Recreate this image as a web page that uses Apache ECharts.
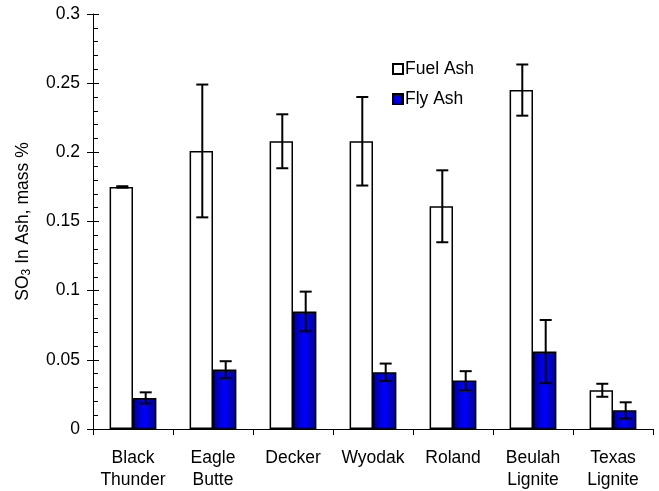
<!DOCTYPE html>
<html>
<head>
<meta charset="utf-8">
<script src="https://cdn.jsdelivr.net/npm/echarts@6/dist/echarts.min.js"></script>
<style>html,body{margin:0;padding:0;background:#fff;}#c{width:659px;height:491px;}</style>
</head>
<body>
<div id="c"></div>
<script>
const categories = ['Black\nThunder', 'Eagle\nButte', 'Decker', 'Wyodak', 'Roland', 'Beulah\nLignite', 'Texas\nLignite'];
const fuelAsh = [0.175, 0.201, 0.208, 0.208, 0.161, 0.245, 0.028];
const fuelErr = [0.0005, 0.048, 0.0195, 0.032, 0.026, 0.0185, 0.0047];
const flyAsh = [0.0225, 0.043, 0.085, 0.041, 0.035, 0.056, 0.0135];
const flyErr = [0.004, 0.006, 0.0143, 0.0063, 0.0068, 0.0228, 0.0058];
const seriesNames = ['Fuel Ash', 'Fly Ash'];
const yTicks = { min: 0, max: 0.3, interval: 0.05 };

const FONT = 'Liberation Sans, Arial, sans-serif';
const FS = 17.5;
const CAT_GAP = 0.415;

function errSeries(vals, errs, side) {
  return {
    type: 'custom',
    z: 10,
    silent: true,
    data: vals.map((v, i) => [i, v, errs[i]]),
    renderItem: function (params, api) {
      const i = api.value(0), v = api.value(1), e = api.value(2);
      const band = api.size([1, 0])[0];
      const bw = band * (1 - CAT_GAP) / 2;
      const c = api.coord([i, v]);
      const x = c[0] + side * bw / 2 + 1;
      const yt = api.coord([i, v + e])[1];
      const yb = api.coord([i, v - e])[1];
      const cap = 6;
      const st = { stroke: '#000', lineWidth: 2 };
      return {
        type: 'group',
        children: [
          { type: 'line', shape: { x1: x, y1: yt, x2: x, y2: yb }, style: st },
          { type: 'line', shape: { x1: x - cap, y1: yt, x2: x + cap, y2: yt }, style: st },
          { type: 'line', shape: { x1: x - cap, y1: yb, x2: x + cap, y2: yb }, style: st }
        ]
      };
    }
  };
}

const chart = echarts.init(document.getElementById('c'), null, { renderer: 'canvas' });
chart.setOption({
  backgroundColor: '#fff',
  animation: false,
  textStyle: { fontFamily: FONT },
  grid: { left: 93, right: 6, top: 14, bottom: 61, containLabel: false },
  legend: {
    data: seriesNames,
    orient: 'vertical',
    left: 392,
    top: 59,
    padding: 0,
    itemWidth: 10,
    itemHeight: 10,
    itemGap: 10,
    icon: 'rect',
    textStyle: { fontFamily: FONT, fontSize: FS, lineHeight: 20, color: '#000', padding: [0, 0, 0, -3] }
  },
  xAxis: {
    type: 'category',
    data: categories,
    axisLine: { lineStyle: { color: '#000', width: 1 } },
    axisTick: { show: true, length: 6, lineStyle: { color: '#000' } },
    axisLabel: { color: '#000', fontSize: FS, fontFamily: FONT, lineHeight: 22, margin: 18, interval: 0 }
  },
  yAxis: [{
    type: 'value',
    min: yTicks.min, max: yTicks.max, interval: yTicks.interval,
    name: '{a|SO}{s|3}{a| In Ash, mass %}',
    nameLocation: 'middle',
    nameGap: 60,
    nameRotate: 90,
    nameTextStyle: {
      rich: {
        a: { fontSize: FS, fontFamily: FONT, color: '#000' },
        s: { fontSize: 12, fontFamily: FONT, color: '#000', padding: [7, 0, 0, 0] }
      }
    },
    splitLine: { show: false },
    axisLine: { show: true, lineStyle: { color: '#000', width: 1 } },
    axisTick: { show: true, length: 6, lineStyle: { color: '#000' } },
    axisLabel: { color: '#000', fontSize: FS, fontFamily: FONT, margin: 13,
      formatter: v => String(Math.round(v * 100) / 100) }
  }, {
    type: 'value',
    position: 'left',
    min: yTicks.min, max: yTicks.max, interval: yTicks.interval,
    splitLine: { show: false },
    axisLine: { show: false },
    axisLabel: { show: false },
    axisTick: { show: true, inside: true, length: 6, lineStyle: { color: '#000' } },
    minorTick: { show: true, splitNumber: 5, length: 5, lineStyle: { color: '#000' } }
  }],
  series: [{
    name: seriesNames[0],
    type: 'bar',
    data: fuelAsh,
    barGap: '0%',
    barCategoryGap: (CAT_GAP * 100) + '%',
    itemStyle: { color: '#fff', borderColor: '#000', borderWidth: 1.5 }
  }, {
    name: seriesNames[1],
    type: 'bar',
    data: flyAsh,
    barGap: '0%',
    barCategoryGap: (CAT_GAP * 100) + '%',
    itemStyle: {
      color: new echarts.graphic.LinearGradient(0, 0, 1, 0, [
        { offset: 0, color: '#000090' },
        { offset: 0.5, color: '#0000ff' },
        { offset: 1, color: '#000090' }
      ]),
      borderColor: '#000', borderWidth: 1.5
    }
  },
  errSeries(fuelAsh, fuelErr, -1),
  errSeries(flyAsh, flyErr, 1)
  ]
});
</script>
</body>
</html>
